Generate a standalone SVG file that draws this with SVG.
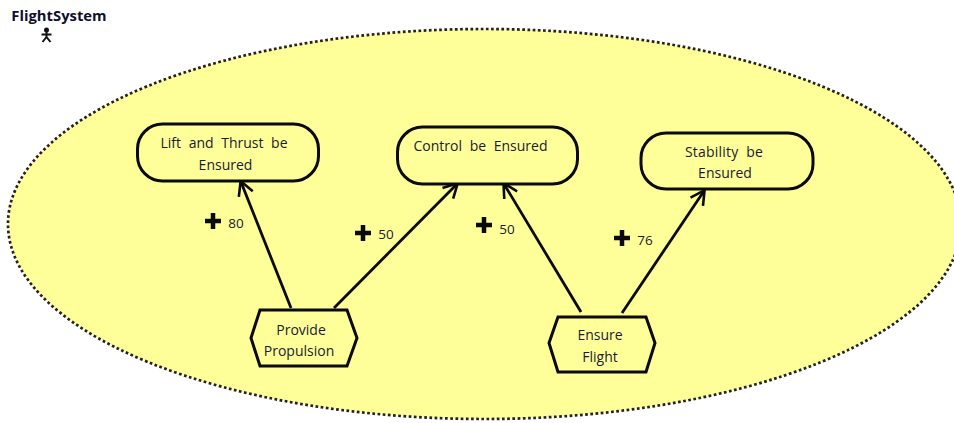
<svg xmlns="http://www.w3.org/2000/svg" width="954" height="423" viewBox="0 0 954 423">
<defs>
<marker id="arrow" viewBox="0 0 20 20" refX="16" refY="10" markerWidth="20" markerHeight="20" markerUnits="userSpaceOnUse" orient="auto"><path d="M3 2.500L17 10L3 17.500" fill="none" stroke="#0a0a0a" stroke-width="2.600"/></marker>
</defs>
<style>
text{font-family:"Open Sans","DejaVu Sans",sans-serif;font-size:14px;fill:#1a1a30;text-anchor:middle;word-spacing:4px}
.node{fill:#ffff99;stroke:#0a0a0a;stroke-width:3}
.link{stroke:#0a0a0a;stroke-width:2.800;fill:none;marker-end:url(#arrow)}
.plus{stroke:#0a0a0a;stroke-width:4.500;fill:none}
.w{font-size:13.500px}
</style>
<rect width="954" height="423" fill="#fff"/>
<g id="actor">
<text x="59" y="21" style="font-size:14.800px;font-weight:700;fill:#10102a">FlightSystem</text>
<g fill="#111" stroke="#111" stroke-width="2"><circle cx="46.500" cy="30" r="1.500"/><path fill="none" d="M41.500 34.500H51.500M46.500 31V37M46.500 37L42.500 42M46.500 37L50.500 42"/></g>
</g>
<g id="boundary"><ellipse cx="484.500" cy="224" rx="476.500" ry="195" fill="#ffff99" stroke="#222" stroke-width="2.700" stroke-dasharray="2.700 2.500"/></g>
<g id="connectors">
<path class="link" d="M291 308L241 182"/>
<path class="link" d="M334 308L457 184"/>
<path class="link" d="M581 312L504 184"/>
<path class="link" d="M622 313L704 191"/>
</g>
<g id="goal-lift"><rect class="node" x="137.500" y="124" width="181" height="57" rx="25"/><text x="224" y="148">Lift and Thrust be</text><text x="225.500" y="170">Ensured</text></g>
<g id="goal-control"><rect class="node" x="397.500" y="127" width="180" height="57" rx="25"/><text x="480.500" y="151">Control be Ensured</text></g>
<g id="goal-stability"><rect class="node" x="641" y="133" width="172" height="56" rx="25"/><text x="724" y="157" style="letter-spacing:.2px">Stability be</text><text x="725" y="178">Ensured</text></g>
<g id="task-propulsion"><path class="node" d="M260 310H347L357 338L347 366H260L251 338Z"/><text x="301" y="335">Provide</text><text x="299" y="356">Propulsion</text></g>
<g id="task-flight"><path class="node" d="M558 317H646L655 343L646 372H558L549 343Z"/><text x="600" y="340">Ensure</text><text x="600" y="362">Flight</text></g>
<g id="contribution-80"><path class="plus" d="M213 213V229M205 221H221"/><text class="w" x="236" y="228">80</text></g>
<g id="contribution-50a"><path class="plus" d="M363 225V241M355 233H371"/><text class="w" x="386" y="239">50</text></g>
<g id="contribution-50b"><path class="plus" d="M484 217V233M476 225H492"/><text class="w" x="507" y="234">50</text></g>
<g id="contribution-76"><path class="plus" d="M622 230V246M614 238H630"/><text class="w" x="645" y="245">76</text></g>
</svg>
